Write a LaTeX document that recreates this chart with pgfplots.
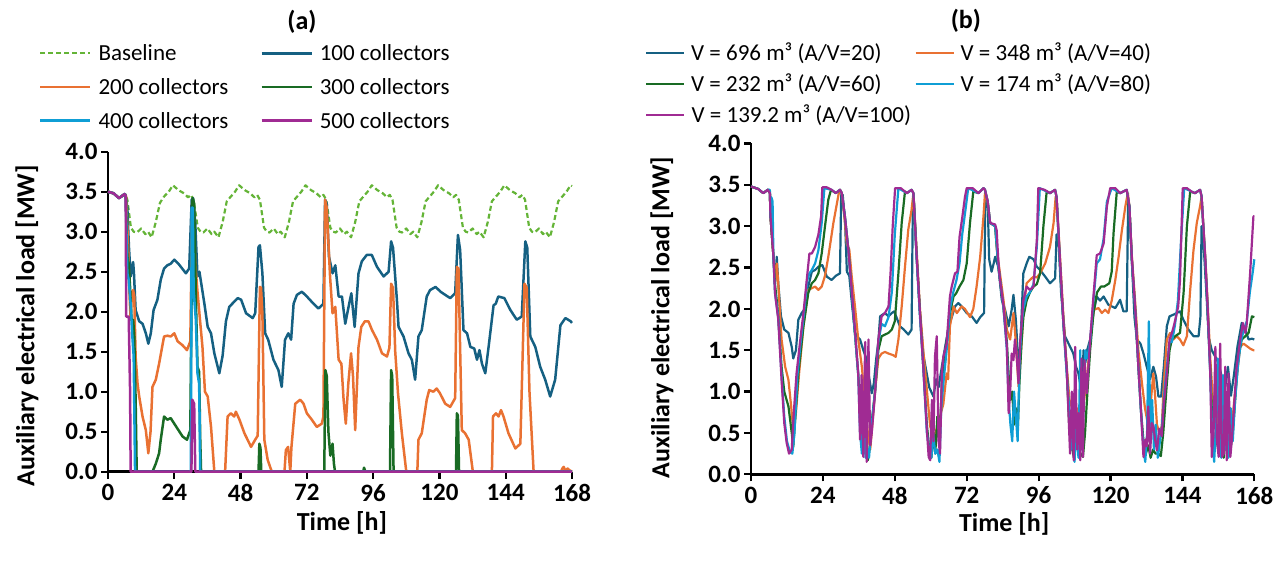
\documentclass[border=0pt]{standalone}
\usepackage{fontspec}
\setmainfont{Carlito}
\usepackage{pgfplots}
\pgfplotsset{compat=1.18}
\definecolor{cBase}{RGB}{100,180,55}
\definecolor{cBlue}{RGB}{21,96,130}
\definecolor{cOrange}{RGB}{233,113,50}
\definecolor{cGreen}{RGB}{25,107,36}
\definecolor{cCyan}{RGB}{15,158,213}
\definecolor{cPurple}{RGB}{160,43,147}
\pgfplotsset{
  myaxis/.style={
    scale only axis, anchor=south west,
    xmin=0, xmax=168, ymin=0, ymax=4,
    axis x line*=bottom, axis y line*=left,
    xtick={0,24,48,72,96,120,144,168},
    ytick={0,0.5,1,1.5,2,2.5,3,3.5,4},
    tick align=outside, major tick length=7pt,
    axis line style={line width=2.5pt, black},
    tick style={line width=2.2pt, black},
    /pgf/number format/assume math mode=true,
    yticklabel style={/pgf/number format/fixed, /pgf/number format/fixed zerofill, /pgf/number format/precision=1},
    xticklabel style={yshift=-2pt},
    ticklabel style={font=\fontsize{25}{30}\selectfont\bfseries},
    label style={font=\fontsize{26}{31}\selectfont\bfseries},
    title style={font=\fontsize{26}{31}\selectfont\bfseries, anchor=center},
    clip=false, no markers,
    every axis plot/.append style={line join=round},
    legend cell align=left, legend columns=2,
  }
}
\begin{document}
\begin{tikzpicture}[x=1pt,y=1pt]
\useasboundingbox (0,0) rectangle (1284,562);
% ---------------- (a) ----------------
\begin{axis}[myaxis,
  at={(108pt,90.3pt)}, width=464pt, height=320pt,
  title={(a)}, title style={at={(axis description cs:0.418,1)}, yshift=123.5pt},
  xlabel={Time [h]}, ylabel={Auxiliary electrical load [MW]},
  xlabel style={at={(axis description cs:0.504,-0.16)}, anchor=center},
  ylabel style={at={(axis description cs:-0.1746,0.456)}, anchor=center},
  legend image code/.code={\draw[#1] (0pt,0pt) -- (50pt,0pt);},
  legend style={at={(axis description cs:-0.1487,1.3434)}, anchor=north west,
    draw=none, fill=none, inner sep=0pt, outer sep=0pt,
    font=\fontsize{23}{28}\selectfont, row sep=10.7pt,
    nodes={inner sep=0pt, text height=19pt, text depth=4pt},
    /tikz/every odd column/.append style={column sep=7pt},
    /tikz/every even column/.append style={column sep=32pt}},
]
\addplot[cBase, line width=2.2pt, dash pattern=on 5pt off 3pt] coordinates {
(0,3.5)(2,3.48)(4,3.42)(5.5,3.45)(6.3,3.47)(7,3.4)(8.3,3.05)(9.3,3.0)(10.5,2.99)(12,3.04)(13.5,2.97)(14.5,3.0)(15.8,2.93)(17.3,3.12)(18.8,3.36)(20.3,3.44)(22,3.5)(23.5,3.58)
(25.5,3.52)(27.5,3.48)(29,3.43)(30,3.46)(31,3.4)(32.5,3.05)(33.5,3.0)(34.5,2.99)(36,3.04)(37.5,2.97)(38.5,3.0)(40,2.93)(41.5,3.12)(43,3.38)(44.5,3.44)(46,3.5)(47.5,3.58)
(49.5,3.52)(51.5,3.48)(53,3.43)(54,3.46)(55,3.4)(56.5,3.05)(57.5,3.0)(58.5,2.99)(60,3.04)(61.5,2.97)(62.5,3.0)(64,2.93)(65.5,3.12)(67,3.38)(68.5,3.44)(70,3.5)(71.5,3.58)
(73.5,3.52)(75.5,3.48)(77,3.43)(78,3.46)(79,3.4)(80.5,3.05)(81.5,3.0)(82.5,2.99)(84,3.04)(85.5,2.97)(86.5,3.0)(88,2.93)(89.5,3.12)(91,3.38)(92.5,3.44)(94,3.5)(95.5,3.58)
(97.5,3.52)(99.5,3.48)(101,3.43)(102,3.46)(103,3.4)(104.5,3.05)(105.5,3.0)(106.5,2.99)(108,3.04)(109.5,2.97)(110.5,3.0)(112,2.93)(113.5,3.12)(115,3.38)(116.5,3.44)(118,3.5)(119.5,3.58)
(121.5,3.52)(123.5,3.48)(125,3.43)(126,3.46)(127,3.4)(128.5,3.05)(129.5,3.0)(130.5,2.99)(132,3.04)(133.5,2.97)(134.5,3.0)(136,2.93)(137.5,3.12)(139,3.38)(140.5,3.44)(142,3.5)(143.5,3.58)
(145.5,3.52)(147.5,3.48)(149,3.43)(150,3.46)(151,3.4)(152.5,3.05)(153.5,3.0)(154.5,2.99)(156,3.04)(157.5,2.97)(158.5,3.0)(160,2.93)(161.5,3.12)(163,3.38)(164.5,3.44)(166,3.5)(167.5,3.58)(168,3.57)
};
\addlegendentry{Baseline}
\addplot[cBlue, line width=2.5pt] coordinates {
(0,3.5)(2,3.48)(4,3.42)(6,3.47)(6.4,3.45)(7,3.3)(7.6,2.8)(8.2,2.44)(8.7,2.55)(9.1,2.62)(9.4,2.48)(10,2.02)(11.3,1.88)(12.5,1.85)(13.7,1.73)(14.6,1.6)(15.5,1.73)(16.5,2.02)(17.9,2.15)(19.1,2.4)(20.3,2.54)(21.5,2.58)(22.7,2.6)(24,2.65)(25.5,2.6)(26.4,2.56)(28.2,2.48)(29.4,2.54)(30.3,3.4)(30.8,3.42)(31.6,3.1)(32.4,2.44)(33.1,2.5)(34.9,2.1)(36.1,1.81)(37.3,1.73)(38.5,1.48)(40.3,1.23)(41.5,1.45)(42.7,1.88)(43.9,2.06)(45,2.1)(47,2.17)(48.2,2.15)(50,1.98)(52.4,1.92)(53.3,1.98)(54.5,2.81)(55,2.83)(55.9,2.48)(56.9,1.73)(58,1.65)(59.9,1.4)(61.7,1.27)(62.9,1.06)(64.1,1.65)(65.3,1.73)(66.3,1.65)(67.2,2.1)(68.4,2.21)(70.2,2.25)(72,2.19)(74.4,2.1)(76.2,2.04)(78,2.1)(78.6,3.4)(79.2,3.35)(80,2.69)(81.3,2.48)(82.3,2.58)(83.5,2.19)(84.7,2.19)(85.9,1.85)(87.1,2.06)(88.1,2.23)(89.3,1.81)(90.7,2.48)(91.9,2.63)(93.7,2.71)(95.5,2.71)(97.4,2.56)(99.8,2.44)(101.6,2.5)(102.5,2.88)(103.2,2.8)(104.6,2.15)(105.2,1.81)(107,1.69)(108.8,1.48)(110,1.4)(111.2,1.15)(112.4,1.69)(113.6,1.77)(115.4,2.19)(116.6,2.27)(118.6,2.31)(120.4,2.25)(122.1,2.21)(123.9,2.17)(125.7,2.23)(126.7,2.96)(127.5,2.77)(128.7,1.77)(130,1.73)(131.2,1.56)(132.6,1.54)(133.6,1.4)(134.5,1.52)(135.4,1.35)(136.6,1.23)(137.8,1.56)(139.6,2.08)(140.4,2.1)(141.3,2.19)(143.5,2.17)(145.7,2.02)(148,1.9)(149.8,1.94)(151.1,2.88)(151.8,2.8)(152.9,1.69)(154.7,1.56)(156.5,1.31)(158.3,1.15)(160.1,0.94)(161.9,1.15)(163.8,1.83)(165.6,1.92)(166.6,1.9)(167.5,1.88)(168,1.86)
};
\addlegendentry{100 collectors}
\addplot[cOrange, line width=2.5pt] coordinates {
(0,3.5)(2,3.48)(4,3.42)(6,3.47)(6.5,3.45)(7.2,2.9)(7.8,2.2)(8.2,1.9)(8.7,2.25)(9.1,2.27)(9.5,2.2)(10,1.44)(10.7,1.1)(11.3,0.94)(12.5,0.69)(13.7,0.52)(14.6,0.23)(15.4,0.5)(16.1,1.06)(17.3,1.15)(18.5,1.35)(19.6,1.56)(20.3,1.69)(21.5,1.7)(22.7,1.69)(24,1.73)(25.2,1.63)(27,1.58)(28.6,1.52)(29.8,1.63)(30.5,3.35)(31,3.3)(31.6,2.6)(32.4,2.25)(33.3,1.9)(34.2,1.56)(35.1,1.0)(36.1,0.94)(37.3,0.56)(38.5,0)(42.4,0)(43.3,0.69)(44.5,0.73)(45.7,0.69)(46.3,0.75)(47.6,0.65)(49.4,0.48)(51.8,0.31)(53.3,0.4)(54.2,0.45)(55,2.31)(55.4,2.3)(55.9,1.98)(56.6,0.4)(57.8,0.15)(59.3,0)(63.9,0)(64.4,0.27)(65.2,0.31)(66,0)(66.4,0.3)(67.8,0.85)(69.6,0.9)(70.8,0.85)(72,0.73)(73.8,0.65)(75.6,0.56)(77.4,0.6)(78,0.69)(78.6,3.4)(79.2,3.3)(80.4,2.44)(81.3,1.98)(82.3,2.06)(83.5,1.4)(84.5,1.35)(85.3,0.9)(86.1,0.6)(87,1.1)(88,1.48)(88.7,1.2)(89.5,0.52)(90.7,1.56)(91.7,1.81)(93,1.88)(94.3,1.88)(95.6,1.77)(97.4,1.65)(99.2,1.48)(101,1.44)(101.9,1.55)(102.5,2.35)(103.2,2.3)(104,1.5)(105,0.98)(106.4,0.48)(108,0)(112,0)(112.4,0.4)(113.6,0.48)(115.4,0.9)(116.3,1.02)(117.8,1.0)(119,1.04)(120.2,0.98)(122.1,0.85)(123.9,0.81)(125.7,0.92)(126.3,2.56)(126.9,2.54)(128.1,0.52)(129.3,0.48)(130.6,0.4)(132.1,0)(139,0)(139.4,0.69)(140.5,0.73)(141.4,0.69)(142.3,0.77)(143.2,0.69)(145,0.48)(147.5,0.29)(149.3,0.35)(150.8,2.35)(151.6,2.3)(152.6,1.0)(153.5,0.4)(154.1,0)(164,0)(164.5,0.04)(165,0.06)(165.6,0.01)(166.4,0.04)(167,0.02)(168,0)
};
\addlegendentry{200 collectors}
\addplot[cGreen, line width=2.5pt] coordinates {
(0,3.5)(2,3.48)(4,3.42)(6,3.47)(6.4,3.45)(7,2.69)(7.5,2.6)(8,2.3)(8.5,1.9)(9.1,1.9)(9.5,1.7)(10,0.9)(10.4,0)(16.1,0)(17.3,0.1)(18.5,0.23)(19.1,0.4)(20.3,0.69)(21.5,0.65)(22.7,0.67)(24,0.6)(25.5,0.52)(27,0.44)(28.6,0.4)(29.8,0.52)(30.6,3.42)(31.2,3.35)(31.8,2.2)(32.4,1.31)(33,1.25)(33.4,0.4)(33.7,0)(54.5,0)(54.8,0.35)(55.2,0.3)(55.5,0)(78.3,0)(78.7,1.27)(79.2,1.2)(79.8,0.5)(80.5,0.2)(81.3,0.35)(81.8,0.1)(82.2,0)(92.4,0)(92.7,0.05)(93.2,0)(102.1,0)(102.5,1.27)(102.9,1.2)(103.4,0)(126,0)(126.3,0.73)(126.7,0.7)(127.1,0)(168,0)
};
\addlegendentry{300 collectors}
\addplot[cCyan, line width=2.5pt] coordinates {
(0,3.5)(2,3.48)(4,3.42)(6,3.47)(6.4,3.45)(7,2.48)(7.5,2.4)(8.2,2.1)(8.8,1.7)(9.3,1.44)(9.8,0)(30,0)(30.3,3.3)(30.7,3.3)(31,2.27)(31.8,1.9)(32.4,1.23)(33,1.1)(33.4,0)(168,0)
};
\addlegendentry{400 collectors}
\addplot[cPurple, line width=2.5pt] coordinates {
(0,3.5)(2,3.48)(4,3.42)(6,3.47)(6.4,3.45)(6.6,1.94)(7.5,1.94)(8,1.0)(8.2,0)(30.2,0)(30.5,0.9)(31.2,0.85)(31.6,0)(168,0)
};
\addlegendentry{500 collectors}
\end{axis}
% ---------------- (b) ----------------
\begin{axis}[myaxis,
  at={(751pt,87.7pt)}, width=503.3pt, height=330.8pt,
  title={(b)}, title style={at={(axis description cs:0.427,1)}, yshift=117pt},
  xlabel={Time [h]}, ylabel={Auxiliary electrical load [MW]},
  xlabel style={at={(axis description cs:0.503,-0.15)}, anchor=center},
  ylabel style={at={(axis description cs:-0.1768,0.474)}, anchor=center},
  legend image code/.code={\draw[#1] (0pt,0pt) -- (38pt,0pt);},
  legend style={at={(axis description cs:-0.2106,1.3093)}, anchor=north west,
    draw=none, fill=none, inner sep=0pt, outer sep=0pt,
    font=\fontsize{23}{28}\selectfont, row sep=8.2pt,
    nodes={inner sep=0pt, text height=19pt, text depth=4pt},
    /tikz/every odd column/.append style={column sep=6pt},
    /tikz/every even column/.append style={column sep=33pt}},
]
\addplot[cBlue, line width=2.2pt] coordinates {
(0,3.48)(2.4,3.45)(4.1,3.4)(5.6,3.44)(6.3,3.4)(6.5,3.12)(7.5,2.63)(8,2.3)(8.6,2.63)(9.1,2.31)(10,1.91)(11.1,1.75)(12.5,1.71)(13.6,1.54)(14.1,1.4)(15,1.5)(15.8,1.87)(16.9,1.95)(18,2.0)(19.1,2.27)(20.3,2.45)(21.4,2.47)(22.5,2.51)(23.8,2.53)(25.3,2.39)(26.9,2.35)(28.3,2.4)(29.7,2.43)(30.1,3.38)(30.6,3.38)(31.4,3.05)(32,2.45)(32.8,2.4)(33.6,2.1)(34.7,1.71)(35.8,1.65)(36.4,1.63)(37.5,1.5)(38.5,1.4)(39.2,1.22)(40.3,0.98)(41,1.1)(41.8,1.4)(42.5,1.6)(43.1,1.91)(44.7,1.95)(45.9,1.91)(47,1.95)(47.8,1.97)(49.7,1.79)(51,1.75)(52.5,1.69)(53.6,1.75)(54,3.2)(54.4,3.3)(55.3,2.63)(56.4,1.95)(57.5,1.45)(58.5,1.25)(59.5,1.05)(60.9,0.94)(61.8,1.15)(62.6,1.05)(63.7,1.3)(64.8,1.54)(66,1.79)(67.1,1.91)(68.1,2.03)(69.2,2.07)(70.3,2.03)(72,1.95)(73.7,1.91)(75.3,1.83)(76.5,1.9)(77.8,1.95)(78.2,3.35)(79,3.3)(79.5,2.6)(80.3,2.45)(81,2.55)(81.5,2.63)(82.6,2.5)(83.7,2.11)(84.8,1.99)(86,1.79)(87,1.99)(87.6,2.17)(88.4,1.87)(89.3,1.3)(89.9,1.55)(90.9,2.43)(92,2.55)(92.9,2.63)(94.3,2.6)(95.4,2.51)(96.5,2.47)(98.2,2.39)(99.8,2.31)(101.5,2.37)(102,2.9)(102.6,2.87)(103.5,2.2)(104.8,1.67)(106,1.58)(107.6,1.46)(108.5,1.3)(109.3,1.22)(110.4,0.98)(111,1.5)(111.6,1.35)(112.2,1.5)(113.2,1.63)(114.3,1.95)(115.4,2.15)(116.5,2.1)(117.7,2.15)(119.3,2.05)(121.6,2.01)(123.2,2.11)(124.3,1.97)(125.4,1.97)(125.9,3.3)(126.3,3.24)(127.1,2.6)(128,1.9)(128.8,1.63)(130,1.58)(131,1.46)(132.1,1.3)(133.2,1.15)(134.3,1.3)(135.2,1.18)(136,0.94)(136.9,0.94)(137.8,1.3)(138.8,1.79)(139.7,1.91)(141,1.93)(142.1,1.95)(143.2,1.97)(144.3,1.87)(146,1.75)(147.7,1.67)(149.4,1.67)(150,1.9)(150.4,3.0)(151.2,2.7)(152,2.2)(152.8,1.65)(153.8,1.5)(155,1.42)(156,1.35)(157,1.2)(158.3,1.06)(159.2,1.3)(160.2,0.95)(161.2,1.2)(162.4,1.55)(163.8,1.83)(165,1.75)(166.1,1.63)(167.2,1.64)(168,1.63)
};
\addlegendentry{V = 696 m³ (A/V=20)}
\addplot[cOrange, line width=2.2pt] coordinates {
(0,3.48)(2.4,3.45)(4.1,3.4)(5.6,3.44)(6.3,3.4)(6.5,3.12)(7.5,2.63)(8,2.3)(8.6,2.55)(9.1,2.31)(10.2,1.63)(11.4,1.3)(12.5,1.14)(13.4,0.82)(14.2,0.5)(15,0.75)(16,1.2)(17.5,1.79)(19.1,2.23)(20.3,2.25)(21.4,2.27)(22.5,2.23)(23.6,2.27)(24.7,2.4)(25.8,2.63)(27.5,3.04)(29.2,3.38)(29.7,3.44)(30.3,3.4)(31.2,3.1)(32,2.78)(32.8,2.72)(33.6,2.4)(34.7,2.03)(35.8,1.63)(37,1.3)(38,0.9)(39,0.5)(39.8,0.3)(40.5,0.6)(41.4,1.0)(42.5,1.4)(43.6,1.46)(44.7,1.48)(45.9,1.46)(47.5,1.44)(48.3,1.42)(49.2,1.63)(50.3,2.03)(51.4,2.51)(52.5,2.96)(53.6,3.2)(54.2,3.4)(55.3,2.7)(56.4,2.0)(57.5,1.5)(58.7,1.02)(59.8,0.58)(60.9,0.45)(62,0.55)(63.1,0.7)(64.2,0.85)(65.3,1.22)(65.8,1.15)(66.4,1.79)(67.6,2.03)(68.7,1.95)(70.3,2.03)(71.4,2.0)(73.1,1.9)(74.2,2.0)(75.3,2.27)(76.5,2.63)(77.6,3.12)(78.1,3.4)(79,3.3)(79.8,3.04)(81.5,3.0)(82.1,2.7)(83.1,2.43)(84.3,2.1)(85.4,1.75)(86.5,1.63)(87.6,1.95)(88.4,1.6)(89.3,1.06)(90.4,1.63)(91,2.0)(92,2.31)(93.1,2.35)(94.3,2.39)(95.4,2.38)(96.5,2.43)(98.2,2.55)(99.8,2.75)(101,3.04)(101.7,3.36)(102,3.35)(103.2,2.6)(104.3,1.9)(105.4,1.3)(106.3,0.9)(107.2,0.8)(108,0.6)(108.8,0.8)(109.6,0.5)(110.4,0.7)(111.2,0.9)(112.2,1.2)(113.2,1.6)(114.4,1.99)(116,2.01)(117.1,1.95)(118.2,1.99)(119.3,1.95)(120.4,2.1)(121.6,2.35)(122.7,2.63)(123.8,2.95)(125,3.25)(125.8,3.4)(126.3,3.24)(127.1,2.65)(128.2,2.1)(129.3,1.5)(130.5,1.1)(131.5,0.8)(132.5,0.6)(133.5,0.9)(134.3,1.22)(134.9,0.94)(135.5,0.6)(136.3,0.5)(137.1,0.58)(137.8,1.1)(138.8,1.63)(139.9,1.71)(141,1.63)(142.1,1.67)(143.2,1.63)(144.3,1.56)(145.5,1.67)(146.6,2.23)(147.7,2.71)(148.8,3.04)(149.9,3.24)(150.4,3.36)(151.6,2.65)(152.4,2.1)(153.3,1.4)(154,1.0)(154.8,0.6)(155.6,0.8)(156.4,0.4)(157.2,0.7)(158,0.4)(158.8,0.6)(159.6,0.45)(160.5,0.55)(161.3,0.9)(162.2,1.2)(163.3,1.54)(164.4,1.58)(165.5,1.55)(166.6,1.52)(167.7,1.5)(168,1.5)
};
\addlegendentry{V = 348 m³ (A/V=40)}
\addplot[cGreen, line width=2.2pt] coordinates {
(0,3.48)(2.4,3.45)(4.1,3.4)(5.6,3.44)(6.3,3.4)(6.5,3.12)(7.5,2.63)(8,2.3)(8.6,2.1)(9.1,1.9)(10.2,1.3)(11.1,1.0)(12.5,0.82)(13.6,0.5)(14.1,0.33)(14.8,0.7)(15.8,1.22)(17.5,1.79)(19.1,2.19)(20.3,2.31)(21.4,2.35)(22.5,2.43)(23.6,2.67)(24.7,3.0)(25.8,3.32)(26.7,3.44)(28.3,3.4)(29.7,3.44)(30.3,3.4)(31.4,3.1)(32.5,2.72)(33.6,2.2)(34.7,1.7)(35.8,1.2)(36.6,0.8)(37.5,0.45)(38.3,0.3)(39,0.17)(39.7,0.35)(40.5,0.7)(41.4,1.0)(42.5,1.5)(43.6,1.67)(45.9,1.71)(47,1.75)(48,1.85)(49.2,2.43)(50.3,3.04)(51.4,3.42)(52,3.4)(53.6,3.44)(54.2,3.4)(55.3,2.63)(56.4,1.95)(57.5,1.3)(58.7,0.6)(59.5,0.3)(60.2,0.2)(60.9,0.5)(61.5,0.25)(62.2,0.7)(62.9,0.35)(63.7,1.1)(64.8,1.42)(66.4,1.95)(67.6,2.15)(68.5,2.19)(69.6,2.27)(70.9,2.35)(72,2.55)(73.1,3.04)(74.2,3.42)(75.9,3.4)(77.6,3.46)(78.1,3.44)(79,3.3)(79.8,3.04)(81.5,3.0)(82.6,2.5)(84.3,2.0)(85.4,1.6)(86,1.2)(86.6,0.9)(87.2,1.0)(87.8,0.6)(88.4,0.8)(89,0.5)(89.6,1.1)(90.3,1.6)(90.9,1.9)(92,2.1)(93.1,2.2)(94.3,2.27)(95.4,2.3)(96.5,2.43)(97.6,3.0)(98.7,3.42)(99.8,3.4)(101.5,3.44)(102,3.35)(103.2,2.5)(104.3,1.8)(105.4,1.25)(106.2,0.6)(107,0.35)(107.8,0.2)(108.6,0.4)(109.3,0.3)(110,0.25)(110.8,0.21)(111.5,0.5)(112.3,1.0)(113.2,1.5)(114.3,1.95)(115.5,2.2)(116.8,2.27)(117.9,2.27)(119.6,2.31)(120.4,2.45)(121,2.91)(122.1,3.42)(123.2,3.4)(125.4,3.44)(126.3,3.24)(127.1,2.6)(128.2,2.0)(129.3,1.3)(130.1,0.8)(131,0.4)(131.8,0.25)(132.6,0.35)(133.4,0.2)(134.2,0.3)(135,0.25)(136,0.25)(136.8,0.22)(137.6,0.5)(138.8,1.1)(139.7,1.5)(140.5,1.63)(141.6,1.67)(143.2,1.71)(144.4,2.2)(145.5,3.0)(146.6,3.42)(148.2,3.4)(149.9,3.44)(150.4,3.36)(151.6,2.6)(152.4,2.0)(153.3,1.25)(154,0.6)(154.8,0.3)(155.5,0.5)(156.2,0.25)(157,0.4)(157.8,0.2)(158.6,0.5)(159.3,0.25)(160,0.3)(160.8,0.5)(161.6,0.9)(162.6,1.4)(163.8,1.63)(165,1.67)(166.1,1.71)(167.2,1.91)(168,1.9)
};
\addlegendentry{V = 232 m³ (A/V=60)}
\addplot[cCyan, line width=2.2pt] coordinates {
(0,3.48)(2.4,3.45)(4.1,3.4)(5.6,3.44)(6.3,3.44)(6.5,3.1)(6.8,3.35)(7.2,3.3)(7.5,2.6)(8,2.2)(9.1,1.9)(10.2,1.2)(11.1,0.7)(12,0.4)(13,0.27)(13.8,0.25)(14.5,0.5)(15.5,1.2)(16.6,1.6)(17.7,1.95)(18.8,2.35)(19.5,2.43)(20.3,2.47)(21.4,2.55)(22.5,2.71)(23.6,3.04)(24.5,3.46)(26.9,3.44)(28.3,3.4)(29.7,3.44)(30.3,3.4)(31.4,3.1)(32.5,2.7)(33.6,2.2)(34.7,1.7)(35.8,1.2)(36.4,0.5)(37,0.25)(37.6,0.9)(38.2,0.2)(38.9,0.3)(39.4,0.2)(40,0.5)(41.4,1.0)(42.5,1.6)(43.6,1.82)(44.7,1.79)(45.9,1.9)(47,2.2)(48,2.9)(49.2,3.46)(52,3.4)(53.6,3.44)(54.2,3.4)(55.3,2.6)(56.4,1.9)(57.5,1.3)(58.7,0.5)(59.5,0.3)(60.2,0.2)(60.8,0.5)(61.5,0.25)(62.2,0.3)(62.9,0.15)(63.5,0.8)(64.2,1.1)(65.3,1.5)(66.4,2.0)(67.5,2.2)(68.6,2.35)(69.6,2.55)(70.5,2.9)(71.6,3.2)(72.5,3.46)(75.9,3.4)(77.6,3.46)(78.1,3.44)(79,3.3)(79.8,3.04)(81.5,3.0)(82.6,2.5)(84.3,2.0)(85.4,1.5)(86,0.9)(86.6,0.6)(87.2,0.4)(87.8,1.0)(88.4,0.7)(89,0.4)(89.6,1.3)(90.3,1.8)(90.9,2.0)(92,2.15)(93.1,2.2)(94.3,2.3)(95.4,2.75)(96.4,3.46)(99.8,3.4)(101.5,3.44)(102,3.35)(103.2,2.5)(104.3,1.8)(105.4,1.2)(106.2,0.8)(106.9,0.3)(107.5,0.5)(108,0.15)(108.6,0.6)(109.3,0.2)(109.9,1.5)(110.4,0.3)(111,0.8)(111.6,1.5)(112.2,1.4)(113.2,1.6)(114.3,2.1)(115.4,2.55)(116.5,2.6)(117.7,2.85)(118.8,3.3)(120.4,3.46)(123.2,3.4)(125.4,3.44)(126.3,3.24)(127.1,2.6)(128.2,2.0)(129.3,1.3)(130.1,0.8)(131,0.3)(131.6,0.15)(132.2,0.5)(132.8,1.85)(133.3,0.4)(133.9,0.9)(134.5,0.3)(135.1,0.6)(135.8,0.2)(136.5,0.4)(137.2,0.6)(138,1.0)(138.8,1.3)(139.7,1.6)(140.5,1.6)(141.5,1.8)(142.5,2.1)(143.5,2.8)(144.6,3.46)(148.2,3.4)(149.9,3.44)(150.4,3.36)(151.6,2.6)(152.4,2.0)(153.3,1.2)(154,0.4)(154.6,0.15)(155.2,0.6)(155.8,1.4)(156.4,0.3)(157,0.2)(157.6,1.2)(158.2,0.3)(158.8,0.5)(159.4,0.2)(160.1,0.8)(160.8,0.4)(161.6,0.9)(162.5,1.3)(163.5,1.6)(164.5,1.75)(165.5,1.85)(166.5,2.2)(167.5,2.45)(168,2.6)
};
\addlegendentry{V = 174 m³ (A/V=80)}
\addplot[cPurple, line width=2.2pt] coordinates {
(0,3.48)(2.4,3.45)(4.1,3.4)(5.6,3.44)(6.3,3.4)(6.5,3.12)(7.5,2.63)(8,2.19)(9.1,1.87)(10.2,1.14)(11.1,0.62)(11.9,0.38)(12.7,0.25)(13.6,0.3)(14.2,0.7)(15.2,1.22)(16.3,1.58)(17.5,1.95)(18.6,2.35)(19.5,2.67)(20.3,2.67)(21.4,2.75)(22.5,2.9)(23.4,3.12)(23.8,3.47)(25.3,3.47)(26.9,3.44)(28.3,3.4)(29.7,3.44)(30.3,3.4)(31.4,3.1)(32.5,2.71)(33.6,2.23)(34.7,1.75)(35.8,1.22)(36.4,0.42)(36.9,1.2)(37.5,0.21)(38.1,1.6)(38.6,0.15)(39.2,1.63)(39.8,0.35)(40.3,0.5)(41.4,0.98)(42.5,1.63)(43.6,1.91)(44.7,1.95)(45.9,2.03)(46.6,2.45)(47.3,3.0)(48.1,3.46)(50,3.46)(52,3.4)(53.6,3.44)(54.2,3.4)(55.3,2.63)(56.4,1.95)(57.5,1.3)(58.7,0.54)(59.3,0.21)(59.8,0.17)(60.4,0.9)(60.9,0.4)(61.4,1.42)(62,1.67)(62.6,0.4)(63.1,0.25)(63.7,1.22)(64.2,1.42)(65.3,1.58)(66.4,2.15)(67,2.27)(68.1,2.43)(68.9,2.45)(69.6,2.87)(70.5,3.1)(71.4,3.35)(72,3.46)(74,3.46)(75.9,3.4)(77.6,3.46)(78.1,3.44)(79,3.3)(79.8,3.04)(81.5,3.02)(82,2.95)(82.6,2.55)(83.1,2.35)(84.3,2.03)(85.4,1.54)(86,0.74)(86.5,0.98)(87,1.46)(87.6,1.38)(88.1,1.63)(88.7,1.42)(89.3,1.1)(89.9,1.63)(90.9,2.1)(92,2.27)(93.1,2.23)(94.3,2.27)(95.4,2.83)(95.9,3.46)(98,3.44)(99.8,3.4)(101.5,3.44)(102,3.35)(103.2,2.55)(104.3,1.83)(105.4,1.26)(106.5,0.25)(107.1,1.0)(107.7,0.17)(108.2,1.54)(108.8,0.3)(109.3,0.74)(109.9,0.17)(110.3,1.4)(110.8,0.21)(111.3,1.38)(112.1,0.98)(113.2,1.63)(114.3,2.15)(115.4,2.65)(116.5,2.67)(117.7,2.79)(118.8,3.24)(119.9,3.46)(121.6,3.46)(123.2,3.4)(124.3,3.42)(125.4,3.44)(126.3,3.24)(127.1,2.63)(128.2,2.03)(129.3,1.3)(130.1,0.82)(131,0.21)(131.6,0.42)(132.1,0.34)(132.6,0.82)(133.2,0.25)(133.8,0.62)(134.3,0.58)(134.9,0.42)(135.5,0.29)(136.3,0.55)(137.1,0.46)(137.7,0.82)(138.8,1.22)(139.7,1.63)(140.5,1.71)(141.1,1.79)(141.9,1.91)(142.6,2.03)(143.2,2.35)(144.1,3.46)(145.5,3.46)(147,3.42)(148.2,3.4)(149.9,3.44)(150.4,3.36)(151.6,2.63)(152.4,2.03)(153.3,1.22)(153.8,0.21)(154.4,0.5)(155,1.54)(155.5,0.42)(156.1,0.21)(156.6,1.58)(157.2,0.21)(157.8,0.25)(158.3,1.3)(158.8,0.17)(159.4,1.22)(160,0.21)(160.5,0.42)(161.1,0.74)(162.1,1.3)(163.3,1.63)(164.2,1.83)(165,1.71)(165.4,1.79)(166.6,2.43)(167.7,3.12)(168,3.12)
};
\addlegendentry{\rlap{V = 139.2 m³ (A/V=100)}}
\end{axis}
\end{tikzpicture}
\end{document}
